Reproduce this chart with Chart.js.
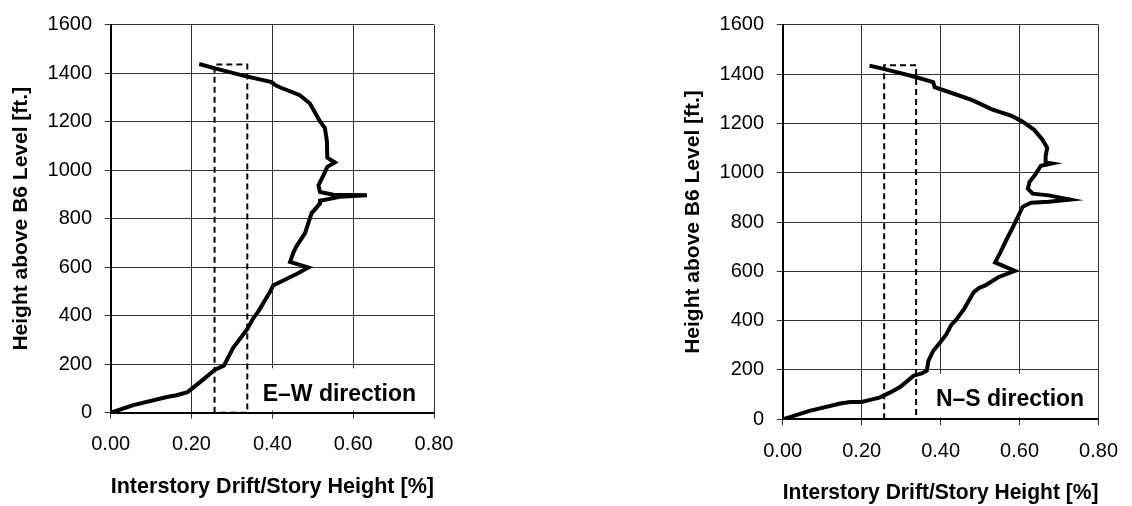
<!DOCTYPE html>
<html>
<head>
<meta charset="utf-8">
<script src="https://cdn.jsdelivr.net/npm/chart.js@4.4.0/dist/chart.umd.min.js"></script>
<style>
  body { margin: 0; background: #fff; }
  .wrap { position: absolute; top: 0; }
</style>
</head>
<body>
<div class="wrap" style="left:0"><canvas id="ewChart" width="566" height="506"></canvas></div>
<div class="wrap" style="left:566px"><canvas id="nsChart" width="566" height="506"></canvas></div>
<script>
// E-W drift profile (drift %, height ft), bottom to top
var ewDrift = [0, 0.056, 0.139, 0.163, 0.190, 0.221, 0.258, 0.280, 0.303, 0.337, 0.353, 0.365, 0.394, 0.402,
    0.427, 0.460, 0.489, 0.444, 0.452, 0.460, 0.481, 0.489, 0.497, 0.518, 0.518, 0.567, 0.634, 0.551, 0.518,
    0.514, 0.526, 0.536, 0.555, 0.536, 0.535, 0.530, 0.518, 0.493, 0.468, 0.423, 0.408, 0.398, 0.328, 0.258, 0.219];
var ewHeight = [0, 31, 65, 72, 85, 126, 177, 194, 268, 342, 390, 417, 498, 525,
    545, 572, 599, 622, 660, 687, 741, 782, 822, 863, 874, 890, 897, 899, 910,
    937, 978, 1014, 1032, 1052, 1120, 1174, 1201, 1275, 1309, 1339, 1350, 1363, 1390, 1420, 1438];

// N-S drift profile
var nsDrift = [0, 0.068, 0.146, 0.171, 0.200, 0.224, 0.245, 0.274, 0.299, 0.332, 0.352, 0.365, 0.369, 0.381,
    0.398, 0.414, 0.427, 0.439, 0.460, 0.472, 0.484, 0.497, 0.513, 0.546, 0.588, 0.538, 0.551, 0.567, 0.584,
    0.596, 0.608, 0.629, 0.674, 0.728, 0.674, 0.633, 0.621, 0.625, 0.641, 0.654, 0.681, 0.666, 0.666, 0.670,
    0.658, 0.637, 0.608, 0.580, 0.530, 0.480, 0.439, 0.385, 0.381, 0.332, 0.258, 0.220];
var nsHeight = [0, 34, 64, 70, 70, 80, 88, 110, 133, 177, 186, 197, 237, 277,
    310, 343, 383, 403, 449, 483, 516, 532, 543, 576, 602, 636, 676, 729, 782,
    822, 862, 878, 882, 891, 908, 915, 935, 962, 995, 1028, 1037, 1041, 1068, 1101,
    1134, 1174, 1207, 1230, 1257, 1294, 1317, 1347, 1367, 1390, 1420, 1434];

// dashed limit band
var limitDrift = [0.257, 0.257, 0.338, 0.338, 0.257];
var limitHeight = [0, 1436, 1436, 0, 0];

var xTicks = [0, 0.2, 0.4, 0.6, 0.8];
var yTicks = [0, 200, 400, 600, 800, 1000, 1200, 1400, 1600];

var FONT = '"Liberation Sans", Arial, Helvetica, sans-serif';

function toPoints(xs, ys) {
    return xs.map(function(v, i){ return {x: v, y: ys[i]}; });
}

// white box with the direction label in the lower right corner
var dirLabel = {
    id: 'dirLabel',
    beforeDatasetsDraw: function(chart, args, opts) {
        var ctx = chart.ctx, area = chart.chartArea;
        var px = chart.scales.x.getPixelForValue(opts.x);
        var py = chart.scales.y.getPixelForValue(opts.y);
        var bx = px - 12, by = py - 26;
        ctx.save();
        ctx.fillStyle = '#fff';
        ctx.fillRect(bx, by, area.right - 1 - bx, area.bottom - 2 - by);
        ctx.font = 'bold 23px ' + FONT;
        ctx.fillStyle = '#000';
        ctx.textBaseline = 'middle';
        ctx.fillText(opts.text, px, py);
        ctx.restore();
    }
};

function makeChart(id, drift, height, label, lx, ly, pad, axisW, axisH, titlePad) {
    var ctx = document.getElementById(id);
    return new Chart(ctx, {
        type: 'scatter',
        data: {
            datasets: [
                {
                    data: toPoints(drift, height),
                    showLine: true,
                    borderColor: '#000',
                    borderWidth: 4,
                    pointRadius: 0,
                    tension: 0
                },
                {
                    data: toPoints(limitDrift, limitHeight),
                    showLine: true,
                    borderColor: '#000',
                    borderWidth: 2,
                    borderDash: [6, 4],
                    pointRadius: 0,
                    tension: 0
                }
            ]
        },
        options: {
            responsive: false,
            animation: false,
            layout: { padding: pad },
            plugins: {
                legend: { display: false },
                tooltip: { enabled: false },
                dirLabel: { text: label, x: lx, y: ly }
            },
            scales: {
                x: {
                    type: 'linear',
                    min: 0, max: 0.8,
                    afterBuildTicks: function(s){ s.ticks = xTicks.map(function(v){ return {value: v}; }); },
                    afterFit: function(s){ s.height = axisH; },
                    ticks: {
                        color: '#000',
                        padding: 14,
                        font: { family: FONT, size: 20 },
                        callback: function(v){ return v.toFixed(2); }
                    },
                    grid: { color: '#333', lineWidth: 1, tickLength: 6 },
                    border: { color: '#000', width: 2 },
                    title: {
                        display: true,
                        text: 'Interstory Drift/Story Height [%]',
                        color: '#000',
                        font: { family: FONT, size: 22, weight: 'bold' },
                        padding: { top: 0, bottom: titlePad }
                    }
                },
                y: {
                    type: 'linear',
                    min: 0, max: 1600,
                    afterBuildTicks: function(s){ s.ticks = yTicks.map(function(v){ return {value: v}; }); },
                    afterFit: function(s){ s.width = axisW; },
                    ticks: {
                        color: '#000',
                        padding: 12.7,
                        font: { family: FONT, size: 20 },
                        callback: function(v){ return String(v); }
                    },
                    grid: { color: '#333', lineWidth: 1, tickLength: 6 },
                    border: { color: '#000', width: 2 },
                    title: {
                        display: true,
                        text: 'Height above B6 Level [ft.]',
                        color: '#000',
                        font: { family: FONT, size: 21, weight: 'bold' },
                        padding: { top: 9, bottom: 0 }
                    }
                }
            }
        },
        plugins: [dirLabel]
    });
}

makeChart('ewChart', ewDrift, ewHeight, 'E\u2013W direction', 0.376, 76,
    { left: 0, right: 132, top: 18.3, bottom: 0 }, 110.7, 93.3, 6);
makeChart('nsChart', nsDrift, nsHeight, 'N\u2013S direction', 0.388, 79,
    { left: 106, right: 26.3, top: 18.3, bottom: 0 }, 110.7, 86.7, 0);
</script>
</body>
</html>
